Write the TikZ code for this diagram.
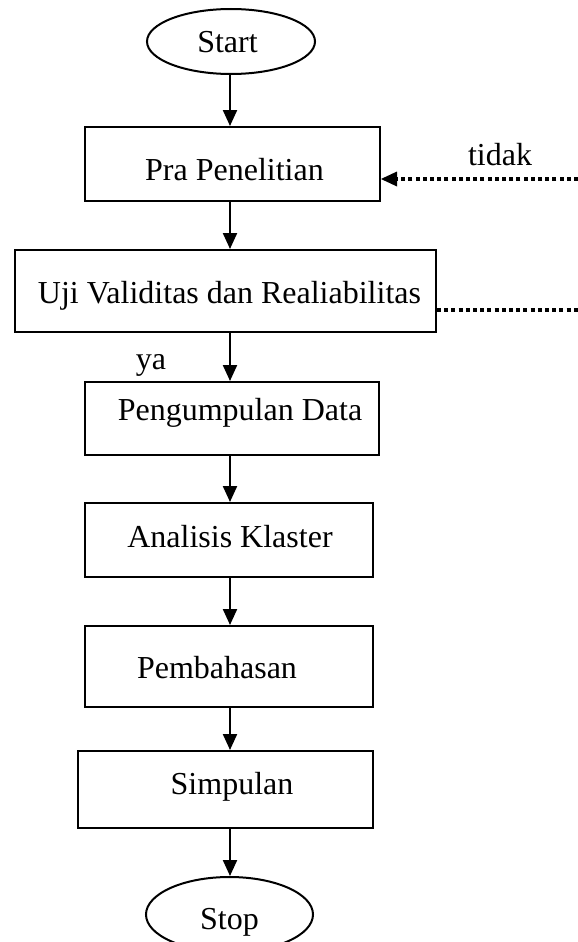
\documentclass[tikz,border=0pt]{standalone}
\usepackage{fontspec}
\setmainfont{Liberation Serif}
\usepackage{tikz}
\usetikzlibrary{arrows.meta, positioning, calc, shapes.geometric}

% text placed inside a box: #1 twice the sideways shift, #2 drop of the baseline, #3 text
\newcommand{\steplabel}[3]{\raisebox{-#2}[0pt][0pt]{\makebox[0pt]{\hspace*{#1}#3}}}

\tikzset{
    stepbox/.style={draw, line width=2pt, rectangle, inner sep=0pt, font=\fontsize{32}{38}\selectfont},
    terminal/.style={draw, line width=2pt, ellipse, inner sep=0pt, font=\fontsize{32}{38}\selectfont},
    flow/.style={->, line width=2.2pt},
    loopback/.style={line width=4pt, dash pattern=on 4pt off 3.2pt}
}

\begin{document}
\begin{tikzpicture}[>={Triangle[length=16pt, width=14pt]}, x=1pt, y=-1pt]
        \path[use as bounding box] (0,0) rectangle (578,942);
        \clip (0,0) rectangle (578,942);
        % start / stop
        \node[terminal, minimum width=168pt, minimum height=65pt] (start) at (231,41.5) {\steplabel{-7pt}{11pt}{Start}};
        \node[terminal, minimum width=167pt, minimum height=75pt] (stop) at (229.5,914.5) {\steplabel{0pt}{15pt}{Stop}};
        % process steps
        \node[stepbox, minimum width=295pt, minimum height=74pt] (pra) at (232.5,164) {\steplabel{4pt}{16pt}{Pra Penelitian}};
        \node[stepbox, minimum width=421pt, minimum height=82pt] (uji) at (225.5,291) {\steplabel{8pt}{12pt}{Uji Validitas dan Realiabilitas}};
        \node[stepbox, minimum width=294pt, minimum height=73pt] (kumpul) at (232,418.5) {\steplabel{16pt}{2pt}{Pengumpulan Data}};
        \node[stepbox, minimum width=288pt, minimum height=74pt] (klaster) at (229,540) {\steplabel{2pt}{7pt}{Analisis Klaster}};
        \node[stepbox, minimum width=288pt, minimum height=81pt] (bahas) at (229,666.5) {\steplabel{-24pt}{11.5pt}{Pembahasan}};
        \node[stepbox, minimum width=295pt, minimum height=77pt] (simpul) at (225.5,789.5) {\steplabel{13pt}{4.5pt}{Simpulan}};
        % main flow
        \coordinate (spine) at (230,0);
        \draw[flow] (start.south -| spine) -- (pra.north -| spine);
        \draw[flow] (pra.south -| spine) -- (uji.north -| spine);
        \draw[flow] (uji.south -| spine) -- (kumpul.north -| spine);
        \draw[flow] (kumpul.south -| spine) -- (klaster.north -| spine);
        \draw[flow] (klaster.south -| spine) -- (bahas.north -| spine);
        \draw[flow] (bahas.south -| spine) -- (simpul.north -| spine);
        \draw[flow] (simpul.south -| spine) -- (stop.north -| spine);
        % feedback (dotted)
        \coordinate (backIn) at (578,179);
        \coordinate (backOut) at (578,310);
        \draw[loopback] (uji.east |- backOut) -- (backOut);
        \draw[loopback] (backIn) -- ($(pra.east |- backIn)+(14,0)$);
        \fill (pra.east |- backIn) -- ++(16,-7.5) -- ++(0,15) -- cycle;
        \node[font=\fontsize{32}{38}\selectfont, anchor=base] (tidak) at (500,165) {tidak};
        \node[font=\fontsize{32}{38}\selectfont, anchor=base] (ya) at (151,369) {ya};
    \end{tikzpicture}
\end{document}
